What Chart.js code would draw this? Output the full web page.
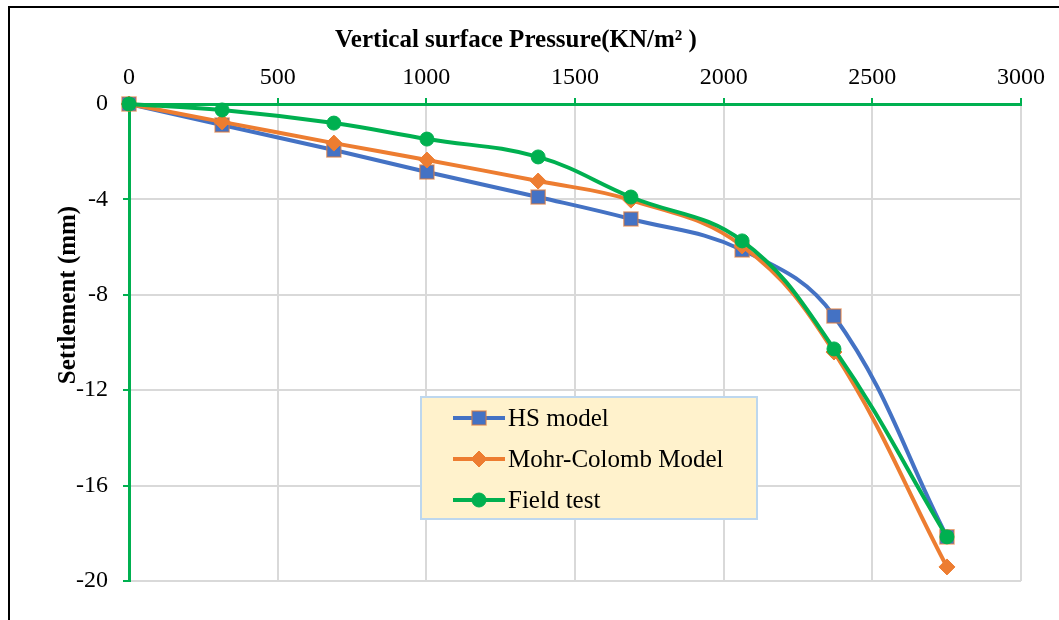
<!DOCTYPE html>
<html>
<head>
<meta charset="utf-8">
<script src="https://cdn.jsdelivr.net/npm/chart.js@4.4.1/dist/chart.umd.min.js"></script>
<style>
    html, body { margin: 0; padding: 0; background: #fff; }
    #wrap { position: relative; width: 1059px; height: 620px; overflow: hidden; }
    #frame {
        position: absolute; left: 8px; top: 6px; width: 1070px; height: 640px;
        border-left: 2px solid #000; border-top: 2px solid #000;
    }
    #chart { position: absolute; left: 0; top: 0; }
</style>
</head>
<body>
<div id="wrap">
    <canvas id="chart" width="1059" height="620"></canvas>
    <div id="frame"></div>
</div>
<script>
// Load-settlement readings (pressure in kN/m², settlement in mm)
const pressure = [0, 313, 689, 1002, 1376, 1688, 2062, 2371, 2751];
const hsModel = [0, -0.88, -1.93, -2.85, -3.90, -4.82, -6.12, -8.89, -18.15];
const mohrColomb = [0, -0.75, -1.64, -2.35, -3.23, -4.03, -5.95, -10.40, -19.41];
const fieldTest = [0, -0.25, -0.80, -1.47, -2.22, -3.90, -5.74, -10.27, -18.15];

const xTicks = [0, 500, 1000, 1500, 2000, 2500, 3000];
const yTicks = [0, -4, -8, -12, -16, -20];

const seriesNames = ['HS model', 'Mohr-Colomb Model', 'Field test'];

const BLUE = '#4472C4';
const ORANGE = '#ED7D31';
const GREEN = '#00B050';
const SERIF = '"Liberation Serif", "Times New Roman", serif';

function toPoints(values) {
    return pressure.map((p, i) => ({ x: p, y: values[i] }));
}

// Axis titles sit a little off the plot centre, so they are drawn by hand
const axisTitles = {
    id: 'axisTitles',
    afterDraw(chart) {
        const ctx = chart.ctx;
        ctx.save();
        ctx.fillStyle = '#000';
        ctx.font = 'bold 25px ' + SERIF;
        ctx.textAlign = 'center';
        ctx.textBaseline = 'alphabetic';
        ctx.fillText('Vertical surface Pressure(KN/m² )', 516, 47);

        ctx.translate(75, 295);
        ctx.rotate(-Math.PI / 2);
        ctx.fillText('Settlement (mm)', 0, 0);
        ctx.restore();
    }
};

// Boxed legend inside the plot area
const boxLegend = {
    id: 'boxLegend',
    afterDatasetsDraw(chart) {
        const ctx = chart.ctx;
        const box = { x: 421, y: 397, w: 336, h: 122 };
        const rows = [418, 459, 500];
        ctx.save();
        ctx.fillStyle = '#FFF2CC';
        ctx.fillRect(box.x, box.y, box.w, box.h);
        ctx.strokeStyle = '#BDD7EE';
        ctx.lineWidth = 2;
        ctx.strokeRect(box.x, box.y, box.w, box.h);

        chart.data.datasets.forEach((ds, i) => {
            const y = rows[i];
            ctx.strokeStyle = ds.borderColor;
            ctx.lineWidth = 4;
            ctx.beginPath();
            ctx.moveTo(453, y);
            ctx.lineTo(505, y);
            ctx.stroke();

            ctx.fillStyle = ds.pointBackgroundColor;
            ctx.strokeStyle = ds.pointBorderColor;
            ctx.lineWidth = ds.pointBorderWidth;
            Chart.helpers.drawPoint(ctx, {
                pointStyle: ds.pointStyle,
                radius: ds.pointRadius,
                rotation: 0,
                borderWidth: ds.pointBorderWidth
            }, 479, y);

            ctx.fillStyle = '#000';
            ctx.font = '25px ' + SERIF;
            ctx.textAlign = 'left';
            ctx.textBaseline = 'middle';
            ctx.fillText(ds.label, 508, y + 1);
        });
        ctx.restore();
    }
};

new Chart(document.getElementById('chart'), {
    type: 'scatter',
    data: {
        datasets: [
            {
                label: seriesNames[0],
                data: toPoints(hsModel),
                showLine: true,
                borderColor: BLUE,
                borderWidth: 4,
                tension: 0.4,
                pointStyle: 'rect',
                pointRadius: 10,
                pointBackgroundColor: BLUE,
                pointBorderColor: 'rgba(237,125,49,0.6)',
                pointBorderWidth: 1.5,
                order: 3,
                clip: false
            },
            {
                label: seriesNames[1],
                data: toPoints(mohrColomb),
                showLine: true,
                borderColor: ORANGE,
                borderWidth: 4,
                tension: 0.4,
                pointStyle: 'rectRot',
                pointRadius: 8,
                pointBackgroundColor: ORANGE,
                pointBorderColor: ORANGE,
                pointBorderWidth: 1,
                order: 2,
                clip: false
            },
            {
                label: seriesNames[2],
                data: toPoints(fieldTest),
                showLine: true,
                borderColor: GREEN,
                borderWidth: 4,
                tension: 0.4,
                pointStyle: 'circle',
                pointRadius: 7,
                pointBackgroundColor: GREEN,
                pointBorderColor: GREEN,
                pointBorderWidth: 1,
                order: 1,
                clip: false
            }
        ]
    },
    options: {
        responsive: false,
        animation: false,
        layout: { padding: { left: 0, top: 0, right: 38, bottom: 39 } },
        plugins: {
            legend: { display: false },
            tooltip: { enabled: false }
        },
        scales: {
            x: {
                type: 'linear',
                position: 'top',
                min: 0,
                max: 3000,
                afterBuildTicks: (scale) => { scale.ticks = xTicks.map(v => ({ value: v })); },
                afterFit: (scale) => { scale.height = 104; },
                ticks: {
                    color: '#000',
                    font: { family: SERIF, size: 24 },
                    padding: 6,
                    maxRotation: 0,
                    callback: (v) => String(v)
                },
                grid: {
                    color: '#D9D9D9',
                    lineWidth: 2,
                    tickColor: GREEN,
                    tickLength: 6,
                    tickWidth: 2
                },
                border: { color: GREEN, width: 3 }
            },
            y: {
                type: 'linear',
                min: -20,
                max: 0,
                afterBuildTicks: (scale) => { scale.ticks = yTicks.map(v => ({ value: v })); },
                afterFit: (scale) => { scale.width = 129; },
                ticks: {
                    color: '#000',
                    font: { family: SERIF, size: 24 },
                    padding: 15,
                    callback: (v) => String(v)
                },
                grid: {
                    color: '#D9D9D9',
                    lineWidth: 2,
                    tickColor: GREEN,
                    tickLength: 6,
                    tickWidth: 2
                },
                border: { color: GREEN, width: 3 }
            }
        }
    },
    plugins: [axisTitles, boxLegend]
});
</script>
</body>
</html>
